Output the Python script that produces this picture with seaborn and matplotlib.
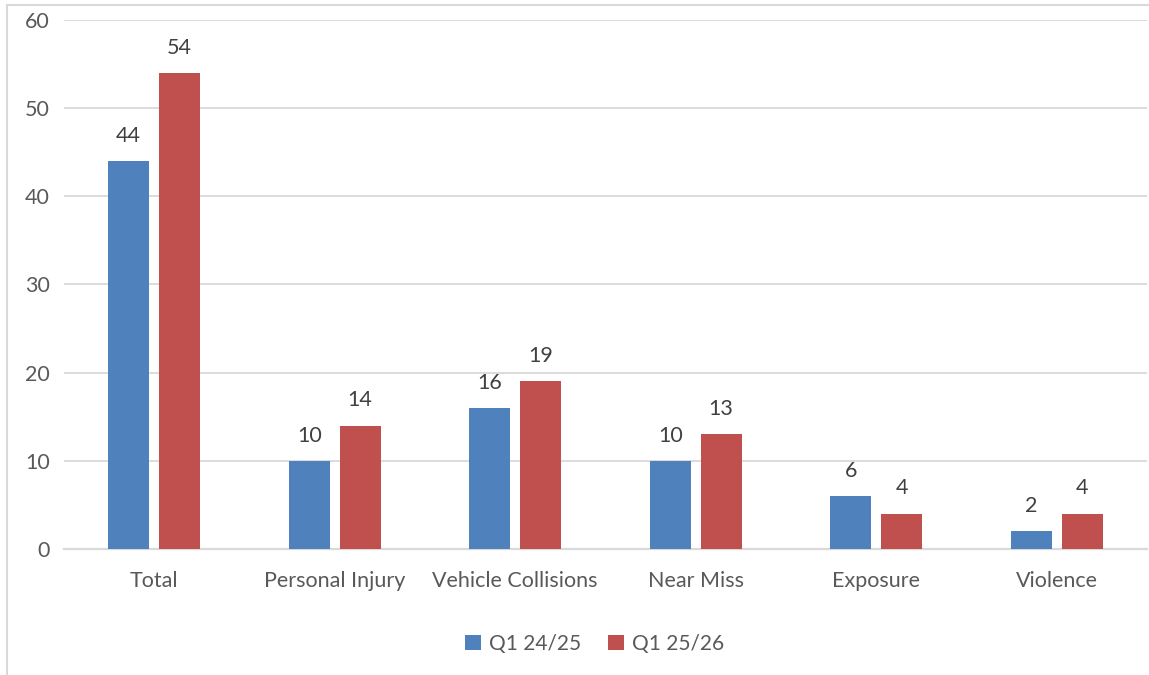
import pandas as pd
import matplotlib
matplotlib.use("Agg")
import matplotlib.pyplot as plt
import seaborn as sns

# =========================
# DATA
# =========================

categories = ["Total", "Personal Injury", "Vehicle Collisions", "Near Miss", "Exposure", "Violence"]
q1_2425 = [44, 10, 16, 10, 6, 2]
q1_2526 = [54, 14, 19, 13, 4, 4]
series_names = ["Q1 24/25", "Q1 25/26"]

df = pd.DataFrame({
    "category": categories * 2,
    "period": [series_names[0]] * len(categories) + [series_names[1]] * len(categories),
    "count": q1_2425 + q1_2526,
})

# =========================
# STYLE
# =========================

sns.set_style("white")
plt.rcParams['font.family'] = ['Lato', 'DejaVu Sans']
text_col = "#595959"
grid_col = "#D9D9D9"
fs = 15.5

fig = plt.figure(figsize=(11.49, 6.75), dpi=100)
ax = fig.add_axes([0.0557, 0.1867, 0.9425, 0.7837])

sns.barplot(
    data=df, x="category", y="count", hue="period",
    palette=["#4F81BD", "#C0504D"], width=0.565, gap=0.196,
    saturation=1, linewidth=0, edgecolor="none", ax=ax, zorder=3,
)

# =========================
# AXES
# =========================

ax.set_ylim(0, 60)
ax.set_yticks(range(0, 61, 10))
ax.set_xlim(-0.5, len(categories) - 0.5)
ax.yaxis.grid(True, color=grid_col, linewidth=1.3, zorder=0)
ax.set_xlabel("")
ax.set_ylabel("")
for side in ["top", "right", "left"]:
    ax.spines[side].set_visible(False)
ax.spines["bottom"].set_color(grid_col)
ax.spines["bottom"].set_linewidth(1.6)
ax.tick_params(axis="both", length=0, labelsize=fs, colors=text_col)
ax.tick_params(axis="x", pad=16)
ax.tick_params(axis="y", pad=10)

for cont in ax.containers:
    ax.bar_label(cont, padding=11, fontsize=fs, color="#404040")

# =========================
# LEGEND
# =========================

ax.legend(
    loc="upper center", bbox_to_anchor=(0.49, -0.125), ncol=2,
    frameon=False, fontsize=15, labelcolor=text_col,
    handlelength=0.75, handleheight=0.75, handletextpad=0.4, columnspacing=1.3,
)

# chart border (left and top visible in reference)
fig.add_artist(plt.Line2D([0.0061, 0.0061], [0.0, 0.9926], color=grid_col, linewidth=1.5))
fig.add_artist(plt.Line2D([0.0061, 1.0], [0.9926, 0.9926], color=grid_col, linewidth=1.5))

fig.savefig("out.png", dpi=100)
